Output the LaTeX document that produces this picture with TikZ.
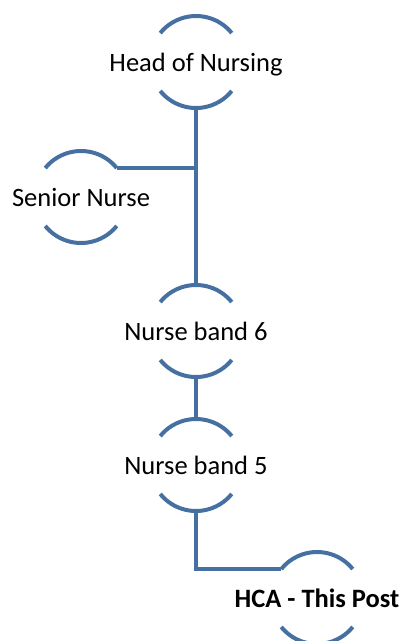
\documentclass[tikz,border=0pt]{standalone}
\usepackage{fontspec}
\setmainfont{Carlito}
\definecolor{hier}{RGB}{70,112,162}

\begin{document}
\begin{tikzpicture}[x=1pt, y=1pt,
    post/.style={circle, minimum size=92pt, inner sep=0pt, outer sep=0pt},
    txt/.style={font=\fontsize{26.5}{30}\selectfont, inner sep=0pt, anchor=base, yshift=-9pt},
    ring/.style={draw=hier, line width=4pt}]

  \useasboundingbox (0,0) rectangle (404,-641);

  % posts (circle centres)
  \node[post] (head)   at (196,-62)  {};
  \node[post] (senior) at (81,-197)  {};
  \node[post] (band6)  at (196,-331) {};
  \node[post] (band5)  at (196,-465) {};
  \node[post] (hca)    at (317,-598) {};

  % titles
  \node[txt] (headtext)   at (head)   {Head of Nursing};
  \node[txt] (seniortext) at (senior) {Senior Nurse};
  \node[txt] (band6text)  at (band6)  {Nurse band 6};
  \node[txt] (band5text)  at (band5)  {Nurse band 5};
  \node[txt, font=\fontsize{26.5}{30}\selectfont\bfseries] (hcatext) at (hca) {HCA - This Post};

  % upper and lower arcs of each post
  \foreach \p in {head,senior,band6,band5,hca} {
    \draw[ring] (\p.39) arc[start angle=39, end angle=141, radius=46];
    \draw[ring] (\p.-141) arc[start angle=-141, end angle=-39, radius=46];
  }

  % reporting lines
  \draw[ring] (head.south) -- (band6.north);
  \draw[ring] (senior.39) -- (senior.39 -| head.south);
  \draw[ring] (band6.south) -- (band5.north);
  \draw[ring] (band5.south) |- (hca.141);

\end{tikzpicture}
\end{document}
